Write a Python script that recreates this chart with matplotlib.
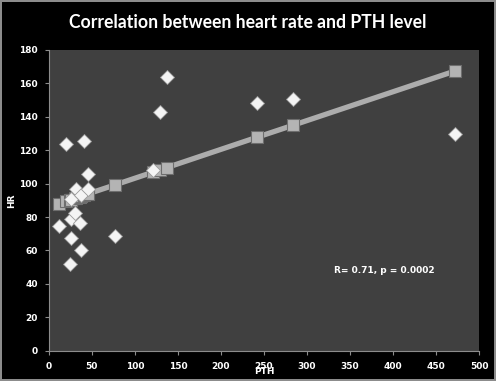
import numpy as np
import matplotlib
matplotlib.use('Agg')
import matplotlib.pyplot as plt

# PTH level vs heart rate
pth = [12, 19.6, 25, 25.5, 25.5, 26, 30.5, 31.7, 36.3, 37.5, 38, 41, 45.6, 45.6,
       77.3, 120.7, 129.2, 137, 241.5, 284, 471.7]
hr = [74.6, 123.7, 52, 67.5, 78.6, 90.6, 82.6, 96.6, 76.2, 60.3, 93.2, 125.3, 105.8, 96.6,
      68.7, 108, 142.7, 163.7, 148.5, 150.7, 130]
# trend line values at each PTH
hr_fit = [88.1, 89.4, 90.3, 90.4, 90.4, 90.5, 91.3, 91.5, 92.3, 92.5, 92.6, 93.1, 93.9, 93.9,
          99.3, 106.8, 108.3, 109.6, 127.7, 135.0, 167.4]

x_ticks = [0, 50, 100, 150, 200, 250, 300, 350, 400, 450, 500]
y_ticks = [0, 20, 40, 60, 80, 100, 120, 140, 160, 180]

fig = plt.figure(figsize=(4.96, 3.81), dpi=100, facecolor='black',
                 edgecolor='#8c8c8c', linewidth=1.5)
ax = fig.add_axes([0.0982, 0.0795, 0.8681, 0.7893])
ax.set_facecolor('#404040')

ax.plot(pth, hr_fit, color='#acacac', linewidth=3.8, solid_capstyle='round', zorder=2)
ax.plot(pth, hr_fit, linestyle='none', marker='s', markersize=8.5,
        markerfacecolor='#b4b4b4', markeredgecolor='#6e6e6e', markeredgewidth=0.8, zorder=3)
ax.plot(pth, hr, linestyle='none', marker='D', markersize=6.8,
        markerfacecolor='#f4f4f4', markeredgecolor='#9a9a9a', markeredgewidth=0.6, zorder=4)

ax.set_xlim(0, 500)
ax.set_ylim(0, 180)
ax.set_xticks(x_ticks)
ax.set_yticks(y_ticks)
for s in ['top', 'right']:
    ax.spines[s].set_visible(False)
for s in ['left', 'bottom']:
    ax.spines[s].set_color('#8c8c8c')
    ax.spines[s].set_linewidth(0.8)
ax.tick_params(colors='#8c8c8c', length=3, width=0.8, direction='out', pad=5)
for lab in ax.get_xticklabels() + ax.get_yticklabels():
    lab.set_color('white')
    lab.set_fontweight('bold')
    lab.set_fontsize(6.5)

ax.set_xlabel('PTH', color='white', fontweight='bold', fontsize=6.5, labelpad=-3)
ax.set_ylabel('HR', color='white', fontweight='bold', fontsize=6.5, labelpad=2)

ax.text(390, 48.3, 'R= 0.71, p = 0.0002', color='white', fontweight='bold',
        fontsize=6.5, ha='center', va='center')

fig.text(0.5, 0.942, 'Correlation between heart rate and PTH level', color='white',
         fontweight='bold', fontsize=12.7, ha='center', va='center', family='Lato')

fig.savefig('out.png', dpi=100, facecolor='black', edgecolor='#8c8c8c')
